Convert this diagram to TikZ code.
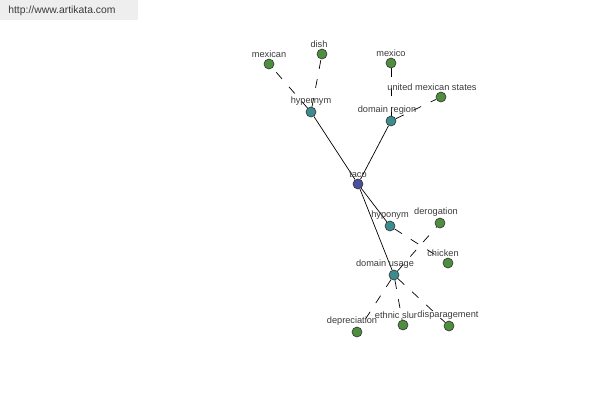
\documentclass[tikz,border=0pt]{standalone}
\usepackage{fontspec}
\setmainfont{Liberation Sans}
\usetikzlibrary{backgrounds}
\definecolor{akgreen}{HTML}{4E8E3E}
\definecolor{akteal}{HTML}{3C8C8E}
\definecolor{akblue}{HTML}{4A4F9E}
\definecolor{aktext}{HTML}{3A3A3A}
\definecolor{akband}{HTML}{EEEEEE}

\begin{document}
\begin{tikzpicture}[
  x=0.02cm, y=-0.02cm,
  font=\fontsize{5.25}{6}\selectfont,
  every label/.style={text=aktext, inner sep=0pt, label distance=0.6pt},
  word/.style={circle, draw=black!80, line width=0.35pt, minimum size=10*0.02cm, inner sep=0pt},
  leaf/.style={word, fill=akgreen},
  rel/.style={word, fill=akteal},
  head/.style={word, fill=akblue},
  tie/.style={black, line width=0.4pt},
  loose/.style={black, line width=0.4pt, dash pattern=on 5pt off 6pt}
]
\useasboundingbox (0,0) rectangle (600,400);

\node[fill=akband, minimum width=138*0.02cm, minimum height=20*0.02cm, anchor=north west, inner sep=0pt] (band) at (0,0) {};
\node[text=aktext, font=\fontsize{5.9}{7}\selectfont, anchor=west, inner sep=0pt] (site) at (8,11) {http://www.artikata.com};

\node[head, label={above:taco}] (taco) at (358,184) {};

\node[rel, label={above:hypernym}] (hyper) at (311,112) {};
\node[rel, label={[xshift=-4*0.02cm]above:domain region}] (dreg) at (391,121) {};
\node[rel, label={above:hyponym}] (hypo) at (390,226) {};
\node[rel, label={[xshift=-9*0.02cm]above:domain usage}] (duse) at (394,275) {};

\node[leaf, label={above:mexican}] (mexican) at (269,64) {};
\node[leaf, label={[xshift=-3*0.02cm]above:dish}] (dish) at (322,54) {};
\node[leaf, label={above:mexico}] (mexico) at (391,63) {};
\node[leaf, label={[xshift=-9*0.02cm]above:united mexican states}] (ums) at (441,97) {};
\node[leaf, label={[xshift=-4*0.02cm]above:derogation}] (derog) at (440,223) {};
\node[leaf, label={[xshift=-5*0.02cm]above:chicken}] (chicken) at (448,263) {};
\node[leaf, label={[xshift=-5*0.02cm]above:depreciation}] (deprec) at (357,332) {};
\node[leaf, label={[xshift=-7*0.02cm]above:ethnic slur}] (slur) at (403,325) {};
\node[leaf, label={[xshift=-1*0.02cm]above:disparagement}] (dispar) at (449,326) {};

\begin{scope}[on background layer]
\draw[tie] (taco) -- (hyper);
\draw[tie] (taco) -- (dreg);
\draw[tie] (taco) -- (hypo);
\draw[tie] (taco) -- (duse);

\draw[loose] (hyper) -- (mexican);
\draw[loose] (hyper) -- (dish);
\draw[loose] (dreg) -- (mexico);
\draw[loose] (dreg) -- (ums);
\draw[loose] (hypo) -- (chicken);
\draw[loose] (duse) -- (derog);
\draw[loose] (duse) -- (deprec);
\draw[loose] (duse) -- (slur);
\draw[loose] (duse) -- (dispar);
\end{scope}

\end{tikzpicture}
\end{document}
